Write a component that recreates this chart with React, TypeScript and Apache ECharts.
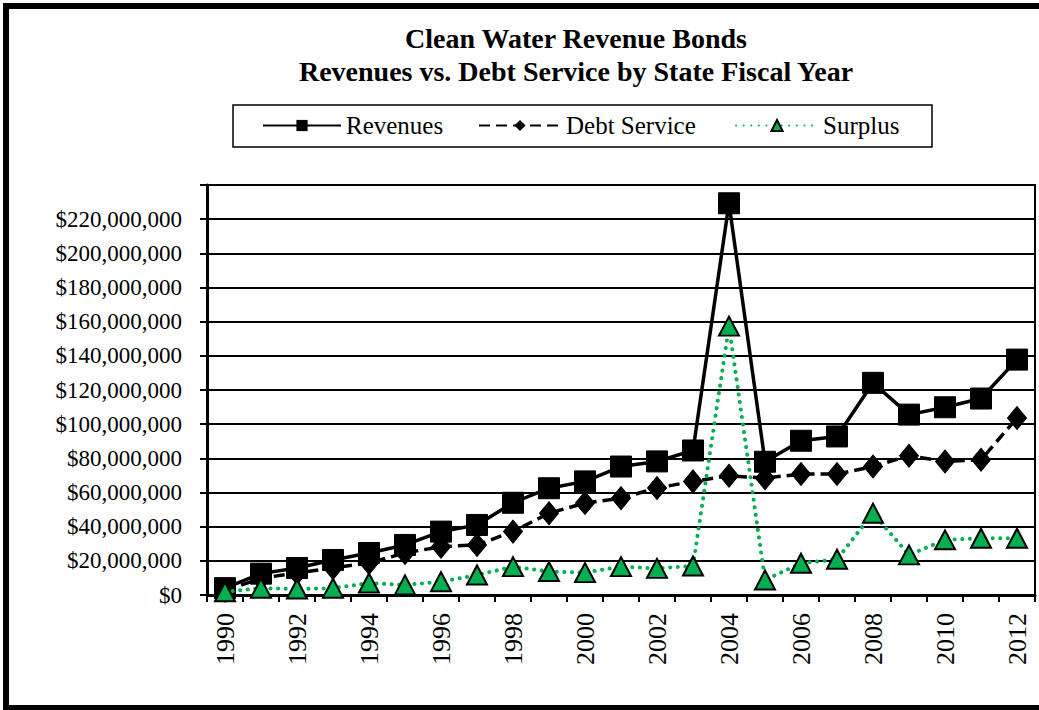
import React, { useEffect, useRef } from "react";
import * as echarts from "echarts";

const years = ["1990","1991","1992","1993","1994","1995","1996","1997","1998","1999","2000","2001","2002","2003","2004","2005","2006","2007","2008","2009","2010","2011","2012"];
const revenues = [4.0e6, 12.5e6, 15.8e6, 20.5e6, 24.6e6, 29.3e6, 37.1e6, 41.0e6, 54.0e6, 62.5e6, 66.5e6, 75.2e6, 78.2e6, 84.6e6, 229.3e6, 78.0e6, 90.3e6, 92.8e6, 124.2e6, 105.6e6, 109.9e6, 115.0e6, 137.8e6];
const debtService = [2.5e6, 9.8e6, 12.9e6, 15.8e6, 18.8e6, 24.6e6, 28.3e6, 29.3e6, 37.1e6, 47.9e6, 53.8e6, 56.7e6, 62.6e6, 66.5e6, 69.8e6, 68.4e6, 70.8e6, 70.8e6, 75.2e6, 81.5e6, 78.2e6, 79.2e6, 103.6e6];
const surplus = [1.9e6, 4.0e6, 3.5e6, 4.0e6, 7.0e6, 5.9e6, 7.8e6, 11.7e6, 16.6e6, 13.7e6, 13.1e6, 16.6e6, 15.6e6, 17.0e6, 157.4e6, 8.8e6, 18.6e6, 20.9e6, 47.9e6, 23.5e6, 32.3e6, 33.2e6, 33.2e6];
const titleLines = ["Clean Water Revenue Bonds", "Revenues vs. Debt Service by State Fiscal Year"];
const seriesNames = ["Revenues", "Debt Service", "Surplus"];

const SERIF = "Liberation Serif";
const GREEN = "#00B050";

export default function App() {
  const ref = useRef<HTMLDivElement>(null);
  useEffect(() => {
    if (!ref.current) return;
    const chart = echarts.init(ref.current, null, { renderer: "svg" });
    const legendText = { fontFamily: SERIF, fontSize: 25, color: "#000" };
    chart.setOption({
      animation: false,
      backgroundColor: "#fff",
      textStyle: { fontFamily: SERIF },
      graphic: [
        {
          type: "rect",
          shape: { x: 6, y: 6, width: 1060, height: 702 },
          style: { fill: "none", stroke: "#000", lineWidth: 6 },
          silent: true,
        },
        {
          type: "rect",
          shape: { x: 233, y: 105, width: 699, height: 42 },
          style: { fill: "none", stroke: "#000", lineWidth: 1.5 },
          silent: true,
        },
        {
          type: "text",
          x: 576,
          y: 38,
          style: { text: titleLines[0], align: "center", verticalAlign: "middle", fontFamily: SERIF, fontSize: 28, fontWeight: "bold", fill: "#000" },
        },
        {
          type: "text",
          x: 576,
          y: 71,
          style: { text: titleLines[1], align: "center", verticalAlign: "middle", fontFamily: SERIF, fontSize: 28, fontWeight: "bold", fill: "#000" },
        },
      ],
      legend: [
        { data: [seriesNames[0]], left: 262, top: 113, itemWidth: 78, itemHeight: 14, itemGap: 0, padding: 0, textStyle: legendText },
        { data: [seriesNames[1]], left: 478, top: 113, itemWidth: 82, itemHeight: 14, itemGap: 0, padding: 0, textStyle: legendText },
        { data: [seriesNames[2]], left: 735, top: 113, itemWidth: 82, itemHeight: 14, itemGap: 0, padding: 0, textStyle: legendText },
      ],
      grid: { left: 207, right: 4, top: 185, bottom: 115, show: true, borderColor: "#000", borderWidth: 2, containLabel: false },
      xAxis: {
        type: "category",
        data: years,
        boundaryGap: true,
        axisLine: { show: true, lineStyle: { color: "#000", width: 3 } },
        axisTick: { show: true, interval: 0, length: 7, lineStyle: { color: "#000", width: 2 } },
        axisLabel: { interval: 1, rotate: 90, margin: 18, fontFamily: SERIF, fontSize: 26, color: "#000" },
        splitLine: { show: false },
      },
      yAxis: {
        type: "value",
        min: 0,
        max: 240000000,
        interval: 20000000,
        axisLine: { show: true, lineStyle: { color: "#000", width: 3 } },
        axisTick: { show: true, length: 7, lineStyle: { color: "#000", width: 2 } },
        axisLabel: {
          margin: 25,
          fontFamily: SERIF,
          fontSize: 23,
          color: "#000",
          formatter: (v: number) => (v >= 240000000 ? "" : "$" + v.toLocaleString("en-US")),
        },
        splitLine: { show: true, lineStyle: { color: "#000", width: 2 } },
      },
      series: [
        {
          name: seriesNames[0],
          type: "line",
          data: revenues,
          symbol: "rect",
          symbolSize: 21,
          itemStyle: { color: "#000", borderColor: "#000" },
          lineStyle: { color: "#000", width: 3.5, type: "solid" },
          z: 2,
        },
        {
          name: seriesNames[1],
          type: "line",
          data: debtService,
          symbol: "diamond",
          symbolSize: [19, 23],
          itemStyle: { color: "#000", borderColor: "#000" },
          lineStyle: { color: "#000", width: 3.5, type: [11, 6] },
          z: 3,
        },
        {
          name: seriesNames[2],
          type: "line",
          data: surplus,
          symbol: "triangle",
          symbolSize: [20, 19],
          itemStyle: { color: GREEN, borderColor: "#000", borderWidth: 2 },
          lineStyle: { color: GREEN, width: 4, type: [0.1, 7.5], cap: "round" },
          z: 4,
        },
      ],
    });
    return () => chart.dispose();
  }, []);
  return (
    <div
      ref={ref}
      style={{ position: "absolute", left: 0, top: 0, width: 1039, height: 710, background: "#fff" }}
    />
  );
}
